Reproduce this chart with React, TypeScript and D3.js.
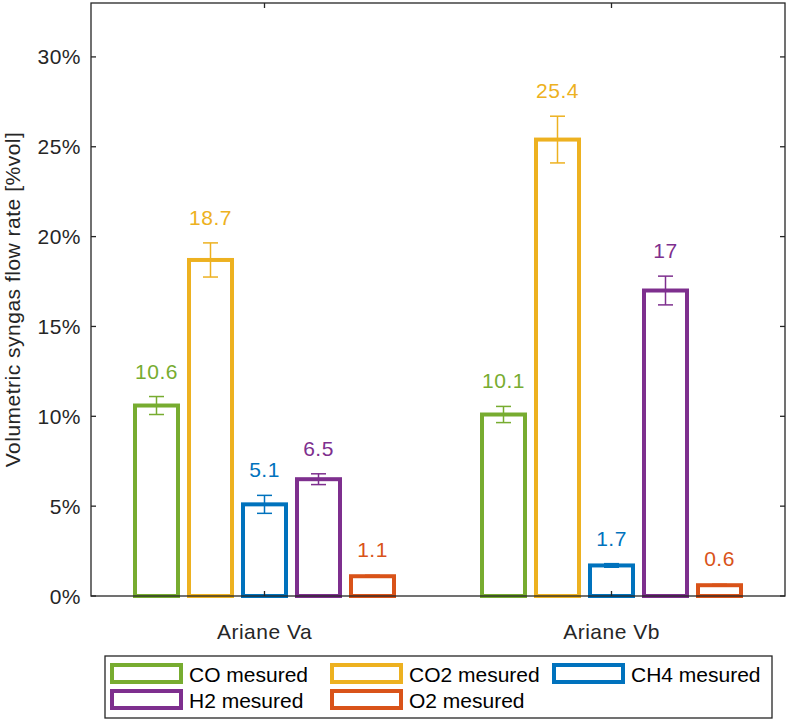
import React from 'react';
import * as d3 from 'd3';

const groups = ['Ariane Va', 'Ariane Vb'];
const seriesNames = ['CO mesured', 'CO2 mesured', 'CH4 mesured', 'H2 mesured', 'O2 mesured'];
const seriesColors = ['#77AC30', '#EDB120', '#0072BD', '#7E2F8E', '#D95319'];
const valuesVa = [10.6, 18.7, 5.1, 6.5, 1.1];
const valuesVb = [10.1, 25.4, 1.7, 17, 0.6];
const errorsVa = [0.5, 0.95, 0.5, 0.3, 0.05];
const errorsVb = [0.45, 1.3, 0.1, 0.8, 0.05];
const labelsVa = ['10.6', '18.7', '5.1', '6.5', '1.1'];
const labelsVb = ['10.1', '25.4', '1.7', '17', '0.6'];
const yTicks = [0, 5, 10, 15, 20, 25, 30];

const W = 791;
const H = 722;
const left = 91;
const right = 785;
const top = 3;
const bottom = 596;
const axisColor = '#262626';
const font = '"Liberation Sans", Arial, sans-serif';

export default function App() {
  const x = d3.scalePoint<string>().domain(groups).range([left, right]).padding(0.5);
  const inner = d3.scaleBand<string>()
    .domain(seriesNames)
    .range([-135, 135])
    .paddingInner(11 / 54)
    .paddingOuter(11 / 108);
  const y = d3.scaleLinear().domain([0, 33]).range([bottom, top]);

  const rows = groups.map((g, gi) => ({
    group: g,
    values: gi === 0 ? valuesVa : valuesVb,
    errors: gi === 0 ? errorsVa : errorsVb,
    labels: gi === 0 ? labelsVa : labelsVb,
  }));

  const bw = inner.bandwidth();
  const capHalf = 7.5;

  // legend layout
  const legCols = [110, 330, 552];
  const legRows = [674, 700];

  return (
    <svg width={W} height={H} style={{ position: 'absolute', left: 0, top: 0, background: '#fff' }}
      fontFamily={font}>
      <rect x={0} y={0} width={W} height={H} fill="#fff" />

      {/* bars */}
      {rows.map((r) => (
        <g key={r.group}>
          {seriesNames.map((s, i) => {
            const cx = (x(r.group) as number) + (inner(s) as number) + bw / 2;
            const v = r.values[i];
            const e = r.errors[i];
            const c = seriesColors[i];
            return (
              <g key={s}>
                <rect x={cx - bw / 2} y={y(v)} width={bw} height={y(0) - y(v)}
                  fill="#fff" stroke={c} strokeWidth={4} />
                <line x1={cx} x2={cx} y1={y(v + e)} y2={y(v - e)} stroke={c} strokeWidth={1.5} />
                <line x1={cx - capHalf} x2={cx + capHalf} y1={y(v + e)} y2={y(v + e)} stroke={c} strokeWidth={1.5} />
                <line x1={cx - capHalf} x2={cx + capHalf} y1={y(v - e)} y2={y(v - e)} stroke={c} strokeWidth={1.5} />
                <text x={cx} y={y(v + e) - 18} textAnchor="middle" fill={c}
                  fontSize={21} letterSpacing={0.5}>{r.labels[i]}</text>
              </g>
            );
          })}
        </g>
      ))}

      {/* axes box */}
      <rect x={left} y={top} width={right - left} height={bottom - top}
        fill="none" stroke={axisColor} strokeWidth={1.3} />
      {yTicks.map((t) => (
        <g key={t}>
          <line x1={left} x2={left + 5} y1={y(t)} y2={y(t)} stroke={axisColor} strokeWidth={1.3} />
          <line x1={right - 5} x2={right} y1={y(t)} y2={y(t)} stroke={axisColor} strokeWidth={1.3} />
          <text x={left - 10} y={y(t)} dy="0.36em" textAnchor="end" fill={axisColor}
            fontSize={21} letterSpacing={0.5}>{`${t}%`}</text>
        </g>
      ))}
      {groups.map((g) => (
        <g key={g}>
          <line x1={x(g)} x2={x(g)} y1={top} y2={top + 5} stroke={axisColor} strokeWidth={1.3} />
          <line x1={x(g)} x2={x(g)} y1={bottom} y2={bottom - 5} stroke={axisColor} strokeWidth={1.3} />
          <text x={x(g)} y={639} textAnchor="middle" fill={axisColor}
            fontSize={21} letterSpacing={0.5}>{g}</text>
        </g>
      ))}

      <text transform={`translate(20,${(top + bottom) / 2}) rotate(-90)`} textAnchor="middle"
        fill={axisColor} fontSize={21} letterSpacing={0.5}>
        Volumetric syngas flow rate [%vol]
      </text>

      {/* legend */}
      <rect x={105} y={656} width={667} height={62} fill="#fff" stroke={axisColor} strokeWidth={1.3} />
      {seriesNames.map((s, i) => {
        const lx = legCols[i % 3];
        const ly = legRows[Math.floor(i / 3)];
        return (
          <g key={s}>
            <rect x={lx + 2} y={ly - 9} width={69} height={17} fill="#fff"
              stroke={seriesColors[i]} strokeWidth={4} />
            <text x={lx + 79} y={ly} dy="0.36em" fill="#000" fontSize={21}>{s}</text>
          </g>
        );
      })}
    </svg>
  );
}
